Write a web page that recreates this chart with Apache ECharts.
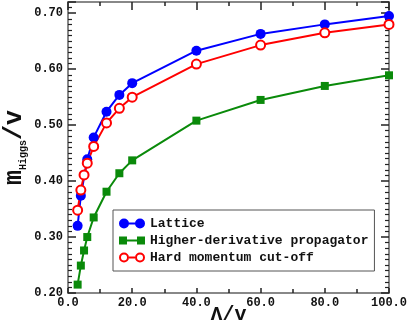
<!DOCTYPE html>
<html>
<head>
<meta charset="utf-8">
<script src="https://cdn.jsdelivr.net/npm/echarts@6/dist/echarts.min.js"></script>
<style>
  html, body { margin: 0; padding: 0; background: #fff; }
  #chart { width: 409px; height: 327px; }
</style>
</head>
<body>
<div id="chart"></div>
<script>
// Lambda/v values and m_Higgs/v for each method
const lambdaLattice = [3, 4, 6, 8, 12, 16, 20, 40, 60, 80, 100]
const lattice = [0.320, 0.374, 0.439, 0.478, 0.524, 0.554, 0.575, 0.633, 0.663, 0.680, 0.695]

const lambdaHigher = [3, 4, 5, 6, 8, 12, 16, 20, 40, 60, 80, 100]
const higherDeriv = [0.215, 0.249, 0.276, 0.300, 0.335, 0.381, 0.414, 0.437, 0.508, 0.545, 0.570, 0.589]

const lambdaCutoff = [3, 4, 5, 6, 8, 12, 16, 20, 40, 60, 80, 100]
const cutoff = [0.348, 0.384, 0.411, 0.432, 0.462, 0.504, 0.530, 0.550, 0.609, 0.643, 0.665, 0.680]

const seriesNames = ['Lattice', 'Higher-derivative propagator', 'Hard momentum cut-off']

const FONT = "'Courier New', 'Liberation Mono', monospace"
const BLUE = '#0000ff'
const GREEN = '#0a8a0a'
const RED = '#ff0000'
const AXIS_GRAY = '#888'
const TICK = '#222'

const pairs = (xs, ys) => xs.map((x, i) => [x, ys[i]])

// legend icons: marker - line - marker
const ICON_CIRCLES = 'path://M0,5A5,5 0 1,1 10,5A5,5 0 1,1 0,5Z M16,5A5,5 0 1,1 26,5A5,5 0 1,1 16,5Z M5,4L21,4L21,6L5,6Z'
const ICON_SQUARES = 'path://M0,1L8,1L8,9L0,9Z M18,1L26,1L26,9L18,9Z M8,4L18,4L18,6L8,6Z'
const ICON_RINGS = 'path://M0,5A5,5 0 1,1 10,5A5,5 0 1,1 0,5Z M2,5A3,3 0 1,0 8,5A3,3 0 1,0 2,5Z ' +
  'M16,5A5,5 0 1,1 26,5A5,5 0 1,1 16,5Z M18,5A3,3 0 1,0 24,5A3,3 0 1,0 18,5Z M10,4L16,4L16,6L10,6Z'

function xAxisBase(position) {
  return {
    type: 'value',
    position,
    min: 0,
    max: 100,
    interval: 20,
    axisLine: { show: true, onZero: false, lineStyle: { color: AXIS_GRAY, width: 2 } },
    axisTick: { show: true, inside: true, length: position === 'top' ? 8 : 5, lineStyle: { color: TICK, width: 1.5 } },
    minorTick: { show: true, splitNumber: 2, length: 4, lineStyle: { color: TICK, width: 1.5 } },
    splitLine: { show: false },
    minorSplitLine: { show: false }
  }
}

function yAxisBase(position) {
  return {
    type: 'value',
    position,
    min: 0.2,
    max: 0.72,
    interval: 0.1,
    axisLine: { show: true, onZero: false, lineStyle: { color: AXIS_GRAY, width: 2 } },
    axisTick: { show: true, inside: true, length: 8, lineStyle: { color: TICK, width: 1.5 } },
    minorTick: { show: true, splitNumber: 10, length: 4, lineStyle: { color: TICK, width: 1.2 } },
    splitLine: { show: false },
    minorSplitLine: { show: false }
  }
}

const chart = echarts.init(document.getElementById('chart'), null, { renderer: 'canvas' })

chart.setOption({
  animation: false,
  backgroundColor: '#fff',
  grid: { left: 68, right: 20, top: 2, bottom: 34, containLabel: false, outerBoundsMode: 'none' },
  xAxis: [
    {
      ...xAxisBase('bottom'),
      name: 'Λ/v',
      nameLocation: 'middle',
      nameGap: 12,
      nameMoveOverlap: false,
      nameTextStyle: { fontFamily: FONT, fontWeight: 'bold', fontSize: 20, color: '#111', verticalAlign: 'top' },
      axisLabel: {
        margin: 4,
        fontFamily: FONT, fontWeight: 'bold', fontSize: 12, color: '#111',
        formatter: v => v.toFixed(1)
      }
    },
    { ...xAxisBase('top'), axisLabel: { show: false } }
  ],
  yAxis: [
    {
      ...yAxisBase('left'),
      name: '{m|m}{s|Higgs}{m|/v}',
      nameLocation: 'middle',
      nameGap: 40,
      nameMoveOverlap: false,
      nameTextStyle: {
        color: '#111',
        rich: {
          m: { fontFamily: FONT, fontWeight: 'bold', fontSize: 25, color: '#111' },
          s: { fontFamily: FONT, fontWeight: 'bold', fontSize: 10, padding: [16, 0, 0, 0], color: '#111' }
        }
      },
      axisLabel: {
        margin: 5,
        showMaxLabel: false,
        fontFamily: FONT, fontWeight: 'bold', fontSize: 12, color: '#111',
        formatter: v => v.toFixed(2)
      }
    },
    { ...yAxisBase('right'), axisLabel: { show: false } }
  ],
  legend: {
    orient: 'vertical',
    left: 113,
    top: 210,
    padding: [7, 6, 7, 6],
    itemGap: 4,
    itemWidth: 26,
    itemHeight: 10,
    backgroundColor: '#fff',
    borderColor: '#555',
    borderWidth: 1,
    textStyle: { fontFamily: FONT, fontWeight: 'bold', fontSize: 13, color: '#111' },
    data: [
      { name: seriesNames[0], icon: ICON_CIRCLES, itemStyle: { color: BLUE, borderWidth: 0 } },
      { name: seriesNames[1], icon: ICON_SQUARES, itemStyle: { color: GREEN, borderWidth: 0 } },
      { name: seriesNames[2], icon: ICON_RINGS, itemStyle: { color: RED, borderWidth: 0 } }
    ]
  },
  series: [
    {
      name: seriesNames[0],
      type: 'line',
      data: pairs(lambdaLattice, lattice),
      symbol: 'circle',
      symbolSize: 10,
      lineStyle: { color: BLUE, width: 2 },
      itemStyle: { color: BLUE }
    },
    {
      name: seriesNames[1],
      type: 'line',
      data: pairs(lambdaHigher, higherDeriv),
      symbol: 'rect',
      symbolSize: 8,
      lineStyle: { color: GREEN, width: 2 },
      itemStyle: { color: GREEN }
    },
    {
      name: seriesNames[2],
      type: 'line',
      data: pairs(lambdaCutoff, cutoff),
      symbol: 'circle',
      symbolSize: 9,
      lineStyle: { color: RED, width: 2 },
      itemStyle: { color: '#fff', borderColor: RED, borderWidth: 2 }
    }
  ]
})
</script>
</body>
</html>
